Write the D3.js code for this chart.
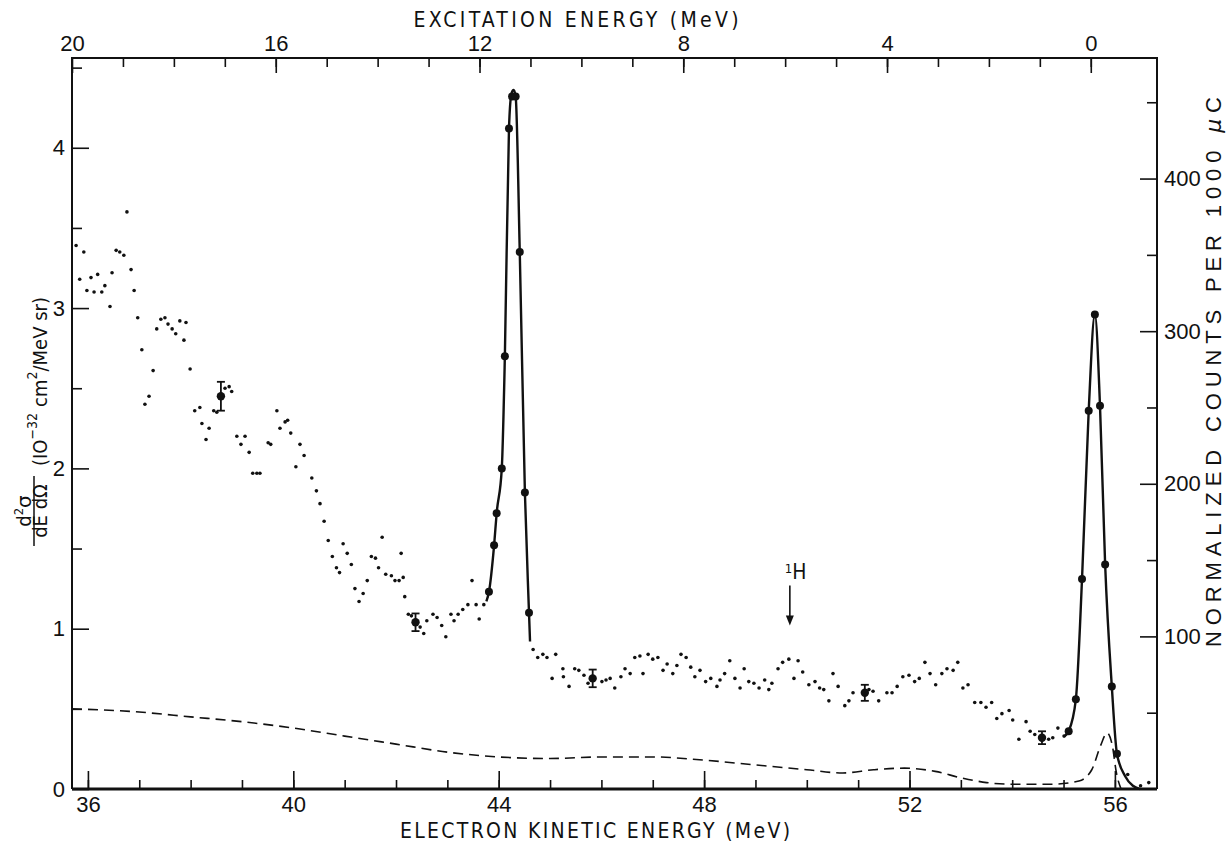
<!DOCTYPE html>
<html>
<head>
<meta charset="utf-8">
<script src="https://cdnjs.cloudflare.com/ajax/libs/d3/7.8.5/d3.min.js"></script>
<style>
  body { margin: 0; background: #fff; }
  svg { display: block; }
  text { fill: #111; font-family: "Liberation Sans Narrow", "DejaVu Sans Condensed", sans-serif; }
</style>
</head>
<body>
<script>
// electron kinetic energy (MeV), cross section (1e-32 cm2/MeV sr)
var smallDots = [
  [35.77,3.39],[35.92,3.35],[35.84,3.18],[35.98,3.11],[36.06,3.19],[36.12,3.10],[36.19,3.21],[36.27,3.10],
  [36.33,3.14],[36.43,3.01],[36.47,3.22],[36.55,3.36],[36.62,3.35],[36.70,3.33],[36.76,3.60],[36.84,3.24],
  [36.90,3.11],[36.97,2.94],[37.05,2.74],[37.11,2.40],[37.19,2.45],[37.27,2.61],[37.34,2.87],[37.42,2.93],
  [37.50,2.94],[37.56,2.90],[37.64,2.87],[37.71,2.84],[37.79,2.92],[37.87,2.80],[37.91,2.91],[37.99,2.62],
  [38.08,2.36],[38.18,2.38],[38.22,2.28],[38.30,2.18],[38.36,2.25],[38.45,2.36],[38.51,2.35],[38.67,2.50],
  [38.75,2.51],[38.80,2.48],[38.90,2.20],[38.98,2.15],[39.06,2.20],[39.14,2.10],[39.21,1.97],[39.29,1.97],
  [39.35,1.97],[39.51,2.16],[39.56,2.15],[39.68,2.36],[39.74,2.25],[39.84,2.29],[39.89,2.30],[39.95,2.22],
  [40.05,2.01],[40.13,2.15],[40.21,2.08],[40.36,1.94],
  [40.45,1.86],[40.52,1.78],[40.60,1.67],[40.68,1.55],[40.76,1.45],[40.84,1.38],[40.90,1.35],[40.97,1.53],
  [41.05,1.47],[41.13,1.40],[41.20,1.25],[41.28,1.17],[41.36,1.22],[41.44,1.30],[41.52,1.45],[41.60,1.44],
  [41.66,1.38],[41.73,1.57],[41.80,1.34],[41.91,1.33],[41.98,1.30],[42.06,1.30],[42.10,1.47],[42.14,1.32],
  [42.17,1.20],[42.24,1.09],[42.30,1.08],[42.47,1.01],[42.54,0.97],[42.60,1.05],[42.72,1.09],[42.80,1.07],
  [42.89,1.02],[42.97,0.95],[43.07,1.09],[43.13,1.05],[43.21,1.09],[43.30,1.12],[43.40,1.15],[43.48,1.30],
  [43.56,1.15],[43.62,1.06],[43.71,1.15],
  [44.67,0.87],[44.76,0.82],[44.86,0.84],[44.94,0.82],[45.04,0.69],[45.11,0.84],[45.25,0.75],[45.26,0.70],
  [45.37,0.64],[45.48,0.75],[45.56,0.74],[45.66,0.71],[45.74,0.66],[46.01,0.67],[46.09,0.68],[46.17,0.69],
  [46.26,0.63],[46.38,0.70],[46.46,0.75],[46.56,0.72],[46.65,0.82],[46.75,0.83],[46.81,0.72],[46.91,0.84],
  [47.00,0.81],[47.10,0.82],[47.20,0.74],[47.28,0.78],[47.39,0.72],[47.47,0.77],[47.55,0.84],[47.65,0.82],
  [47.74,0.76],[47.82,0.70],[47.92,0.74],[48.03,0.67],[48.13,0.69],[48.25,0.64],[48.31,0.68],[48.40,0.72],
  [48.50,0.80],[48.60,0.69],[48.70,0.63],[48.78,0.75],[48.87,0.67],[48.97,0.66],[49.07,0.63],[49.18,0.68],
  [49.26,0.62],[49.32,0.66],[49.44,0.75],[49.53,0.79],[49.65,0.81],[49.75,0.69],[49.83,0.80],[49.92,0.73],
  [50.04,0.65],[50.16,0.67],[50.25,0.63],[50.33,0.62],[50.43,0.55],[50.51,0.72],[50.61,0.64],[50.74,0.52],
  [50.82,0.55],[50.90,0.60],[51.21,0.62],[51.29,0.61],[51.40,0.55],[51.56,0.60],[51.66,0.60],[51.76,0.64],
  [51.87,0.70],[51.99,0.71],[52.10,0.67],[52.19,0.69],[52.30,0.79],[52.40,0.72],[52.51,0.65],[52.63,0.72],
  [52.73,0.75],[52.85,0.74],[52.94,0.79],[53.04,0.63],[53.14,0.65],[53.27,0.54],[53.39,0.54],[53.49,0.51],
  [53.60,0.54],[53.70,0.44],[53.80,0.47],[53.94,0.49],[54.01,0.43],[54.13,0.31],[54.27,0.42],[54.35,0.36],
  [54.44,0.34],[54.71,0.31],[54.79,0.32],[54.89,0.38],[55.01,0.33],
  [56.25,0.09],[56.50,0.02],[56.66,0.04]
];

// value, error
var errorPoints = [[38.59,2.45,0.09],[42.38,1.04,0.055],[45.83,0.69,0.055],[51.13,0.60,0.05],[54.58,0.32,0.04]];

var peakOneDots = [[43.81,1.23],[43.91,1.52],[43.96,1.72],[44.06,2.00],[44.12,2.70],[44.20,4.12],
  [44.26,4.32],[44.33,4.32],[44.41,3.35],[44.51,1.85],[44.59,1.10]];
var peakTwoDots = [[55.10,0.36],[55.24,0.56],[55.36,1.31],[55.49,2.36],[55.61,2.96],[55.71,2.39],
  [55.81,1.40],[55.94,0.64],[56.04,0.22]];

var peakOneCurve = [[43.76,1.17],[43.81,1.23],[43.91,1.52],[43.96,1.72],[44.06,2.00],[44.12,2.70],
  [44.20,4.12],[44.25,4.34],[44.29,4.36],[44.33,4.32],[44.41,3.35],[44.51,1.85],[44.59,1.10],[44.61,0.92]];
var peakTwoCurve = [[55.02,0.33],[55.10,0.36],[55.24,0.56],[55.36,1.31],[55.49,2.36],[55.61,2.96],
  [55.71,2.39],[55.81,1.40],[55.94,0.64],[56.04,0.22],[56.20,0.08],[56.35,0.02],[56.48,0]];

var dashedCurve = [[35.69,0.50],[37,0.48],[38,0.45],[39,0.42],[40,0.38],[41,0.33],[42,0.28],[43,0.23],
  [44,0.20],[45,0.19],[46,0.20],[47,0.20],[48,0.18],[49,0.15],[50,0.12],[50.7,0.10],[51.3,0.12],
  [51.9,0.13],[52.5,0.11],[53,0.07],[53.5,0.04],[54,0.03],[54.8,0.03],[55.3,0.05],[55.55,0.12],
  [55.72,0.27],[55.85,0.35],[55.95,0.27],[56.03,0.10],[56.12,0]];

var bottomTicks = [36,40,44,48,52,56];
var topTicks = [20,16,12,8,4,0];
var leftTicks = [0,1,2,3,4];
var rightTicks = [100,200,300,400];
var hMarker = [49.67,1.27,1.02];   // energy, arrow top, arrow tip

function ChartDraw()
{
    var width = 1229, height = 842;
    var L = 72, R = 1157, T = 58, B = 789;

    var svg = d3.select("body").append("svg")
            .attr("width",width)
            .attr("height",height);
    svg.append("rect").attr("width",width).attr("height",height).attr("fill","#fff");

    var x = d3.scaleLinear().domain([35.69,56.82]).range([L,R]);
    var xTop = d3.scaleLinear().domain([20,-1.30]).range([L,R]);
    var y = d3.scaleLinear().domain([0,4.56]).range([B,T]);
    var yR = d3.scaleLinear().domain([0,479]).range([B,T]);

    function axis(gen, tr, vals, size, labels)
    {
        var g = svg.append("g").attr("transform",tr)
            .call(gen.tickValues(vals).tickSize(size).tickPadding(7)
                 .tickFormat(labels ? d3.format("d") : ""));
        g.select(".domain").remove();
        g.selectAll("line").attr("stroke","#111").attr("stroke-width",1.6);
        g.selectAll("text").style("font-size","22px").attr("fill","#111")
            .style("font-family","'Liberation Sans', sans-serif");
        return g;
    }

    // minor ticks first, then labelled majors
    axis(d3.axisBottom(x), "translate(0,"+B+")", d3.range(36,57,1), -9, false);
    axis(d3.axisBottom(x), "translate(0,"+B+")", bottomTicks, -18, true);
    axis(d3.axisTop(xTop), "translate(0,"+T+")", d3.range(19,-1,-1), -9, false);
    axis(d3.axisTop(xTop), "translate(0,"+T+")", topTicks, -15, true);
    axis(d3.axisLeft(y), "translate("+L+",0)", [0.5,1.5,2.5,3.5,4.5], -10, false);
    axis(d3.axisLeft(y), "translate("+L+",0)", leftTicks, -17, true);
    axis(d3.axisRight(yR), "translate("+R+",0)", [50,150,250,350,450], -10, false);
    axis(d3.axisRight(yR), "translate("+R+",0)", rightTicks, -17, true);

    // frame
    svg.append("path")
       .attr("d","M"+L+","+B+"V"+T+"H"+R+"V"+B)
       .attr("fill","none").attr("stroke","#111").attr("stroke-width",2);
    svg.append("line").attr("x1",L).attr("x2",R).attr("y1",B).attr("y2",B)
       .attr("stroke","#111").attr("stroke-width",3);

    // axis titles
    svg.append("text").attr("x",576).attr("y",27).attr("text-anchor","middle")
       .attr("textLength",325).attr("lengthAdjust","spacing")
       .style("font-size","21px").text("EXCITATION ENERGY (MeV)");
    svg.append("text").attr("x",595).attr("y",838).attr("text-anchor","middle")
       .attr("textLength",390).attr("lengthAdjust","spacing")
       .style("font-size","21px").text("ELECTRON KINETIC ENERGY (MeV)");

    var rl = svg.append("text").attr("transform","translate(1221,372) rotate(-90)")
       .attr("text-anchor","middle").attr("textLength",550).attr("lengthAdjust","spacing")
       .style("font-family","'Liberation Sans', sans-serif").style("font-size","22px");
    rl.append("tspan").text("NORMALIZED COUNTS PER 1000 ");
    rl.append("tspan").style("font-family","'DejaVu Sans', sans-serif").style("font-style","italic").text("\u03bc");
    rl.append("tspan").text("C");

    var ll = svg.append("g").attr("transform","translate(47,548) rotate(-90)");
    var num = ll.append("text").attr("x",37).attr("y",-16).attr("text-anchor","middle").style("font-size","20px");
    num.append("tspan").text("d");
    num.append("tspan").attr("dy",-8).style("font-size","13px").text("2");
    num.append("tspan").attr("dy",8).style("font-family","'DejaVu Sans', sans-serif").text("\u03c3");
    ll.append("line").attr("x1",2).attr("x2",72).attr("y1",-13).attr("y2",-13).attr("stroke","#111").attr("stroke-width",1.5);
    ll.append("text").attr("x",37).attr("y",0).attr("text-anchor","middle").style("font-size","20px")
      .text("dE d\u03a9");
    var unit = ll.append("text").attr("x",82).attr("y",0).style("font-size","20px");
    unit.append("tspan").text("(IO");
    unit.append("tspan").attr("dy",-10).style("font-size","14px").text("\u221232");
    unit.append("tspan").attr("dx",6).attr("dy",10).text("cm");
    unit.append("tspan").attr("dy",-10).style("font-size","14px").text("2");
    unit.append("tspan").attr("dy",10).text("/MeV sr)");

    // dashed curve
    var line = d3.line().x(function(d){return x(d[0]);}).y(function(d){return y(d[1]);})
                 .curve(d3.curveMonotoneX);
    svg.append("path").datum(dashedCurve).attr("d",line)
       .attr("fill","none").attr("stroke","#111").attr("stroke-width",1.6).attr("stroke-dasharray","10,6");

    // peak curves
    [peakOneCurve,peakTwoCurve].forEach(function(c)
    {
        svg.append("path").datum(c).attr("d",line)
           .attr("fill","none").attr("stroke","#111").attr("stroke-width",2.4);
    });

    svg.append("g").selectAll("circle").data(smallDots).enter().append("circle")
       .attr("cx",function(d){return x(d[0]);}).attr("cy",function(d){return y(d[1]);})
       .attr("r",1.8).attr("fill","#111");

    svg.append("g").selectAll("circle").data(peakOneDots.concat(peakTwoDots)).enter().append("circle")
       .attr("cx",function(d){return x(d[0]);}).attr("cy",function(d){return y(d[1]);})
       .attr("r",4).attr("fill","#111");

    // error bars
    var eb = svg.append("g").selectAll("g").data(errorPoints).enter().append("g");
    eb.append("line").attr("x1",function(d){return x(d[0]);}).attr("x2",function(d){return x(d[0]);})
      .attr("y1",function(d){return y(d[1]-d[2]);}).attr("y2",function(d){return y(d[1]+d[2]);})
      .attr("stroke","#111").attr("stroke-width",1.8);
    [-1,1].forEach(function(s)
    {
        eb.append("line").attr("x1",function(d){return x(d[0])-4;}).attr("x2",function(d){return x(d[0])+4;})
          .attr("y1",function(d){return y(d[1]+s*d[2]);}).attr("y2",function(d){return y(d[1]+s*d[2]);})
          .attr("stroke","#111").attr("stroke-width",1.8);
    });
    eb.append("circle").attr("cx",function(d){return x(d[0]);}).attr("cy",function(d){return y(d[1]);})
      .attr("r",4.2).attr("fill","#111");

    // 1H marker
    var hx = x(hMarker[0]);
    var ht = svg.append("text").attr("x",hx-5).attr("y",y(hMarker[1])-6).style("font-size","21px");
    ht.append("tspan").attr("dy",-6).style("font-size","13px").text("1");
    ht.append("tspan").attr("dy",6).text("H");
    svg.append("line").attr("x1",hx).attr("x2",hx).attr("y1",y(hMarker[1])).attr("y2",y(hMarker[2])-6)
       .attr("stroke","#111").attr("stroke-width",1.6);
    svg.append("path")
       .attr("d","M"+(hx-4)+","+(y(hMarker[2])-10)+"L"+(hx+4)+","+(y(hMarker[2])-10)+"L"+hx+","+y(hMarker[2])+"Z")
       .attr("fill","#111");
}
window.onload=ChartDraw;
</script>
</body>
</html>
